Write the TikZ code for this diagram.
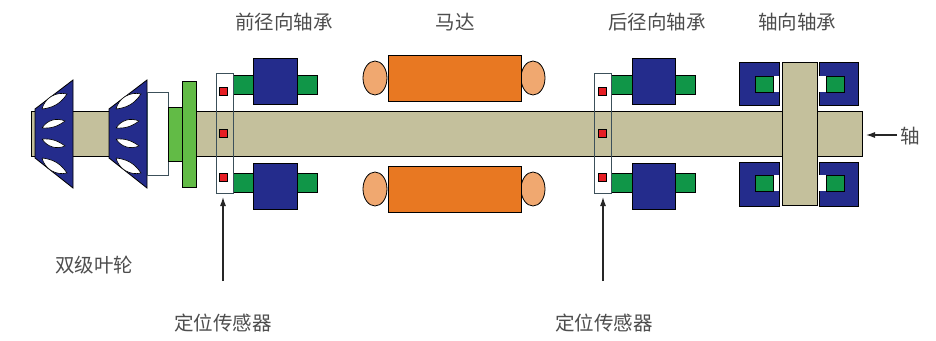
\documentclass[tikz,border=0pt]{standalone}
\usepackage{fontspec}
\newfontfamily\cjk{Noto Sans CJK SC}
\usetikzlibrary{arrows.meta}
\definecolor{navy}{RGB}{36,44,140}
\definecolor{brgreen}{RGB}{16,150,72}
\definecolor{hubgreen}{RGB}{98,187,70}
\definecolor{shafttan}{RGB}{196,192,156}
\definecolor{motororange}{RGB}{232,120,34}
\definecolor{endorange}{RGB}{240,168,112}
\definecolor{sensred}{RGB}{230,30,36}
\definecolor{framegray}{RGB}{60,80,90}
\definecolor{labelgray}{RGB}{77,77,77}
\tikzset{
  part/.style={draw=black,line width=0.8pt},
  label/.style={font=\cjk\fontsize{19.5}{22}\selectfont,text=labelgray,inner sep=0pt},
  pointer/.style={draw=black!85,line width=1.1pt,-{Latex[length=9pt,width=6pt]}},
  blade/.style={fill=white,draw=black,line width=0.6pt},
  redsq/.style={fill=sensred,draw=black,line width=0.5pt,minimum size=8pt,inner sep=0pt},
  sframe/.style={draw=framegray,line width=0.8pt,minimum width=17pt,minimum height=120pt,inner sep=0pt,outer sep=0pt}
}
\begin{document}
\begin{tikzpicture}[x=1pt,y=-1pt]
\useasboundingbox (0,0) rectangle (936,340);

% white backing of the sensor frames (outside the shaft)
\fill[white] (216,73) rectangle (233,193);
\fill[white] (594,73) rectangle (611,193);

% main shaft
\draw[part,fill=shafttan,line width=0.7pt] (31,111) rectangle (862,156);

% two-stage impeller
\foreach \dx in {0,74}{
  \begin{scope}[xshift=\dx pt]
    \draw[part,fill=navy] (35,109) -- (73,80) -- (73,188) -- (35,158) -- cycle;
    \draw[blade] (42,109) to[bend left=45] (67,94) to[bend left=25] (42,109);
    \draw[blade] (42,128) to[bend left=40] (65,121) to[bend left=20] (42,128);
    \draw[blade] (42,139) to[bend right=40] (65,146) to[bend right=20] (42,139);
    \draw[blade] (42,158) to[bend right=45] (67,173) to[bend right=25] (42,158);
  \end{scope}
}
% hub spacer and disk behind the second stage
\draw[draw=framegray,fill=white,line width=0.7pt] (147,92) rectangle (168,175);
\draw[part,fill=hubgreen] (168,107) rectangle (183,161);
\draw[part,fill=hubgreen] (182,81) rectangle (196,187);

% front radial bearing
\foreach \ya/\yb/\yc/\yd in {75/94/58/104, 173/192/163/209}{
  \draw[part,fill=brgreen] (233,\ya) rectangle (317,\yb);
  \draw[part,fill=navy] (253,\yc) rectangle (297,\yd);
}

% rear radial bearing
\foreach \ya/\yb/\yc/\yd in {75/94/58/104, 173/192/163/209}{
  \draw[part,fill=brgreen] (611,\ya) rectangle (695,\yb);
  \draw[part,fill=navy] (632,\yc) rectangle (675,\yd);
}

% motor
\foreach \ya/\yb/\ym in {55/101/78, 166/212/189}{
  \draw[part,fill=endorange] (375,\ym) ellipse [x radius=12, y radius=17];
  \draw[part,fill=endorange] (533,\ym) ellipse [x radius=12, y radius=17];
  \draw[part,fill=motororange] (388,\ya) rectangle (521,\yb);
}

% axial (thrust) bearing
\draw[part,fill=shafttan] (782,62) rectangle (817,205);
\foreach \ya/\yb/\ca/\cb in {62/105/76/92, 162/206/175/191}{
  \draw[part,fill=navy] (739,\ya) rectangle (779,\yb);
  \fill[white] (755,\ca) rectangle (779.4,\cb);
  \draw[part,fill=brgreen] (755,\ca) rectangle (773,\cb);
  \draw[part,fill=navy] (819,\ya) rectangle (858,\yb);
  \fill[white] (818.6,\ca) rectangle (844,\cb);
  \draw[part,fill=brgreen] (826,\ca) rectangle (844,\cb);
}

% position sensors
\node[sframe] (sf1) at (224.5,133) {};
\node[sframe] (sf2) at (602.5,133) {};
\foreach \y in {91,133,177}{
  \node[redsq] at (223,\y) {};
  \node[redsq] at (602,\y) {};
}

% labels
\node[label] (lfront) at (284,22) {前径向轴承};
\node[label] (lmotor) at (455,22) {马达};
\node[label] (lrear) at (657,22) {后径向轴承};
\node[label] (laxial) at (797,22) {轴向轴承};
\node[label] (limp) at (94,265) {双级叶轮};
\node[label] (ls1) at (223,323) {定位传感器};
\node[label] (ls2) at (604,323) {定位传感器};
\node[label,anchor=west] (lshaft) at (900,136) {轴};

% pointers
\coordinate (s1tail) at (223,281);
\coordinate (s2tail) at (603,281);
\coordinate (shaftend) at (866,135);
\draw[pointer,shorten >=4pt] (s1tail) -- (s1tail |- sf1.south);
\draw[pointer,shorten >=4pt] (s2tail) -- (s2tail |- sf2.south);
\draw[pointer,shorten <=3pt] (lshaft.west |- shaftend) -- (shaftend);
\end{tikzpicture}
\end{document}
